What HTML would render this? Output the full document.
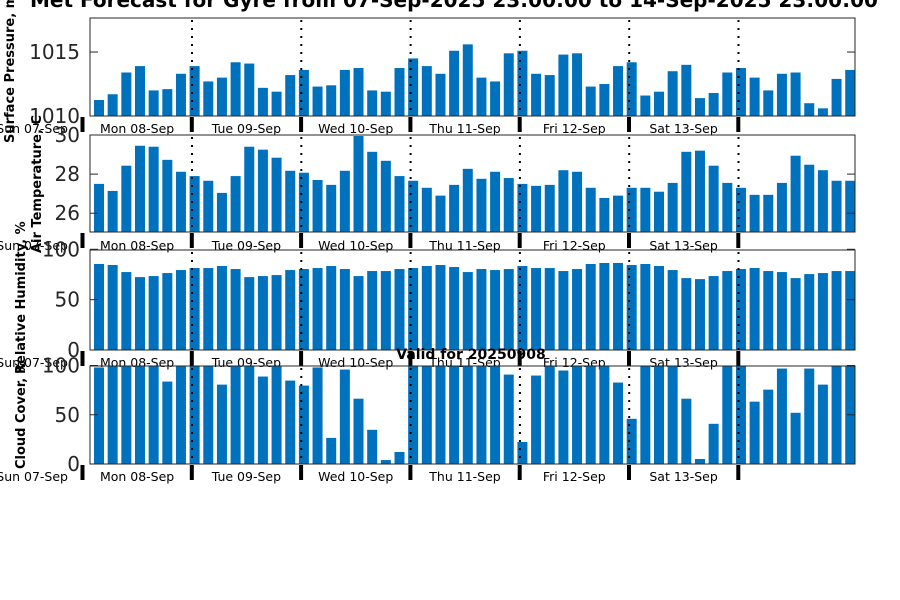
<!DOCTYPE html>
<html><head><meta charset="utf-8"><style>
html,body{margin:0;padding:0;background:#fff;}
svg{display:block;font-family:"DejaVu Sans","Liberation Sans",sans-serif;}
</style></head><body>
<svg id="chart" width="900" height="600" viewBox="0 0 900 600" xmlns="http://www.w3.org/2000/svg">
<text x="30" y="7" font-size="20" font-weight="bold" fill="#000">Met Forecast for Gyre from 07-Sep-2025 23:00:00 to 14-Sep-2025 23:00:00</text>
<g id="panels"></g>
<text x="471" y="359" font-size="14" font-weight="bold" text-anchor="middle" fill="#000">Valid for 20250908</text>
</svg>
<script>
const dayLabels = ["Sun 07-Sep","Mon 08-Sep","Tue 09-Sep","Wed 10-Sep","Thu 11-Sep","Fri 12-Sep","Sat 13-Sep"];
const pressure = [1011.25,1011.7,1013.4,1013.9,1012.0,1012.1,1013.3,1013.9,1012.7,1013.0,1014.2,1014.1,1012.2,1011.9,1013.2,1013.6,1012.3,1012.4,1013.6,1013.75,1012.0,1011.9,1013.75,1014.5,1013.9,1013.3,1015.1,1015.6,1013.0,1012.7,1014.9,1015.1,1013.3,1013.2,1014.8,1014.9,1012.3,1012.5,1013.9,1014.2,1011.6,1011.9,1013.5,1014.0,1011.4,1011.8,1013.4,1013.75,1013.0,1012.0,1013.3,1013.4,1011.0,1010.6,1012.9,1013.6];
const temperature = [27.5,27.14,28.43,29.45,29.4,28.73,28.12,27.9,27.66,27.04,27.9,29.4,29.25,28.84,28.17,28.07,27.7,27.45,28.17,29.95,29.14,28.68,27.9,27.66,27.3,26.9,27.45,28.27,27.76,28.12,27.8,27.5,27.4,27.45,28.2,28.12,27.3,26.78,26.9,27.3,27.3,27.1,27.55,29.14,29.2,28.43,27.55,27.3,26.94,26.94,27.55,28.94,28.48,28.2,27.66,27.66];
const humidity = [85.4,84.4,77.4,72.4,73.4,76.4,79.4,81.4,81.4,83.4,80.4,72.4,73.4,74.4,79.4,80.4,81.4,83.4,80.4,73.4,78.4,78.4,80.4,81.4,83.4,84.4,82.4,77.4,80.4,79.4,80.4,83.4,81.4,81.4,78.4,80.4,85.4,86.4,86.4,84.4,85.4,83.4,79.4,71.4,70.4,73.4,78.4,80.4,81.4,78.4,77.4,71.4,75.4,76.4,78.4,78.4];
const cloud = [98,100,100,100,100,83.7,100,100,100,80.6,100,100,88.8,100,84.7,79.6,98,26.5,95.9,66.3,34.7,4,12.2,100,100,100,100,100,100,100,90.8,22.4,89.8,100,94.9,100,100,100,82.7,45.9,100,100,100,66.3,5.1,40.8,100,100,63.3,75.5,96.9,52,96.9,80.6,100,100];
const pressureTicks = [1010,1015];
const tempTicks = [26,28,30];
const humTicks = [0,50,100];
const cloudTicks = [0,50,100];

const NS="http://www.w3.org/2000/svg";
const root=document.getElementById('panels');
const X0=90,X1=855;
const xi0=-0.66, xi1=55.35;
function xs(i){return X0+(i-xi0)/(xi1-xi0)*(X1-X0);}
function mk(tag,attrs,parent){const e=document.createElementNS(NS,tag);for(const k in attrs)e.setAttribute(k,attrs[k]);(parent||root).appendChild(e);return e;}

const panels=[
 {key:'pressure',data:pressure,ticks:pressureTicks,min:1010,max:1017.66,top:18,bot:116,label:'Surface Pressure, mb',lx:14,ly:143,labY:129},
 {key:'temperature',data:temperature,ticks:tempTicks,min:25.04,max:30,top:135,bot:232,label:'Air Temperature, C',lx:41,ly:253,labY:246},
 {key:'humidity',data:humidity,ticks:humTicks,min:0,max:99.3,top:250,bot:350,label:'Relative Humidity, %',lx:25,ly:374,labY:363},
 {key:'cloud',data:cloud,ticks:cloudTicks,min:0,max:99.5,top:366,bot:464,label:'Cloud Cover, %',lx:25,ly:469,labY:477}
];
panels.forEach(p=>{
  const g=mk('g',{});
  
  
  const ys=v=>p.bot-(v-p.min)/(p.max-p.min)*(p.bot-p.top);
  const clip=mk('clipPath',{id:'clip-'+p.key},g);
  mk('rect',{x:X0,y:p.top,width:X1-X0,height:p.bot-p.top},clip);
  const bars=mk('g',{'clip-path':'url(#clip-'+p.key+')'},g);
  p.data.forEach((v,i)=>{
    const cx=xs(i),w=10;
    const y=Math.max(ys(v),p.top-2);
    const b=mk('rect',{x:(cx-w/2).toFixed(2),y:y.toFixed(2),width:w,height:(p.bot-y).toFixed(2),fill:'#0072bd'},bars);
    
    
  });
  // dotted day lines
  for(let k=0;k<6;k++){
    const x=192+109.3*k;
    const l=mk('line',{x1:x,x2:x,y1:p.top+2,y2:p.bot,stroke:'#000','stroke-width':2,'stroke-dasharray':'2,6'},g);
    
    
  }
  // frame
  const fr=mk('rect',{x:X0,y:p.top,width:X1-X0,height:p.bot-p.top,fill:'none',stroke:'#262626','stroke-width':1},g);
  
  
  // y ticks
  p.ticks.forEach(t=>{
    const y=ys(t);
    mk('line',{x1:X0,x2:X0+8,y1:y,y2:y,stroke:'#262626'},g);
    mk('line',{x1:X1-8,x2:X1,y1:y,y2:y,stroke:'#262626'},g);
    const tx=mk('text',{x:80,y:y+7,'font-size':20,'text-anchor':'end',fill:'#262626'},g);
    tx.textContent=t;
    
    
  });
  // day ticks & labels
  for(let k=0;k<7;k++){
    const x=82.5+109.3*k;
    const tk=mk('rect',{x:x-2,y:p.bot+1,width:4,height:15,fill:'#000'},g);
    
    
  }
  dayLabels.forEach((d,k)=>{
    const t=k===0?mk('text',{x:68,y:p.labY+4,'font-size':12.5,'text-anchor':'end',fill:'#000'},g)
                 :mk('text',{x:82.5+109.3*(k-1)+54.6,y:p.labY+4,'font-size':12.5,'text-anchor':'middle',fill:'#000'},g);
    t.textContent=d;
    
    
  });
  const yl=mk('text',{x:p.lx,y:p.ly,'font-size':13,'font-weight':'bold',fill:'#000',transform:'rotate(-90 '+p.lx+' '+p.ly+')'},g);
  yl.textContent=p.label;
  
  
});
</script>
</body></html>
